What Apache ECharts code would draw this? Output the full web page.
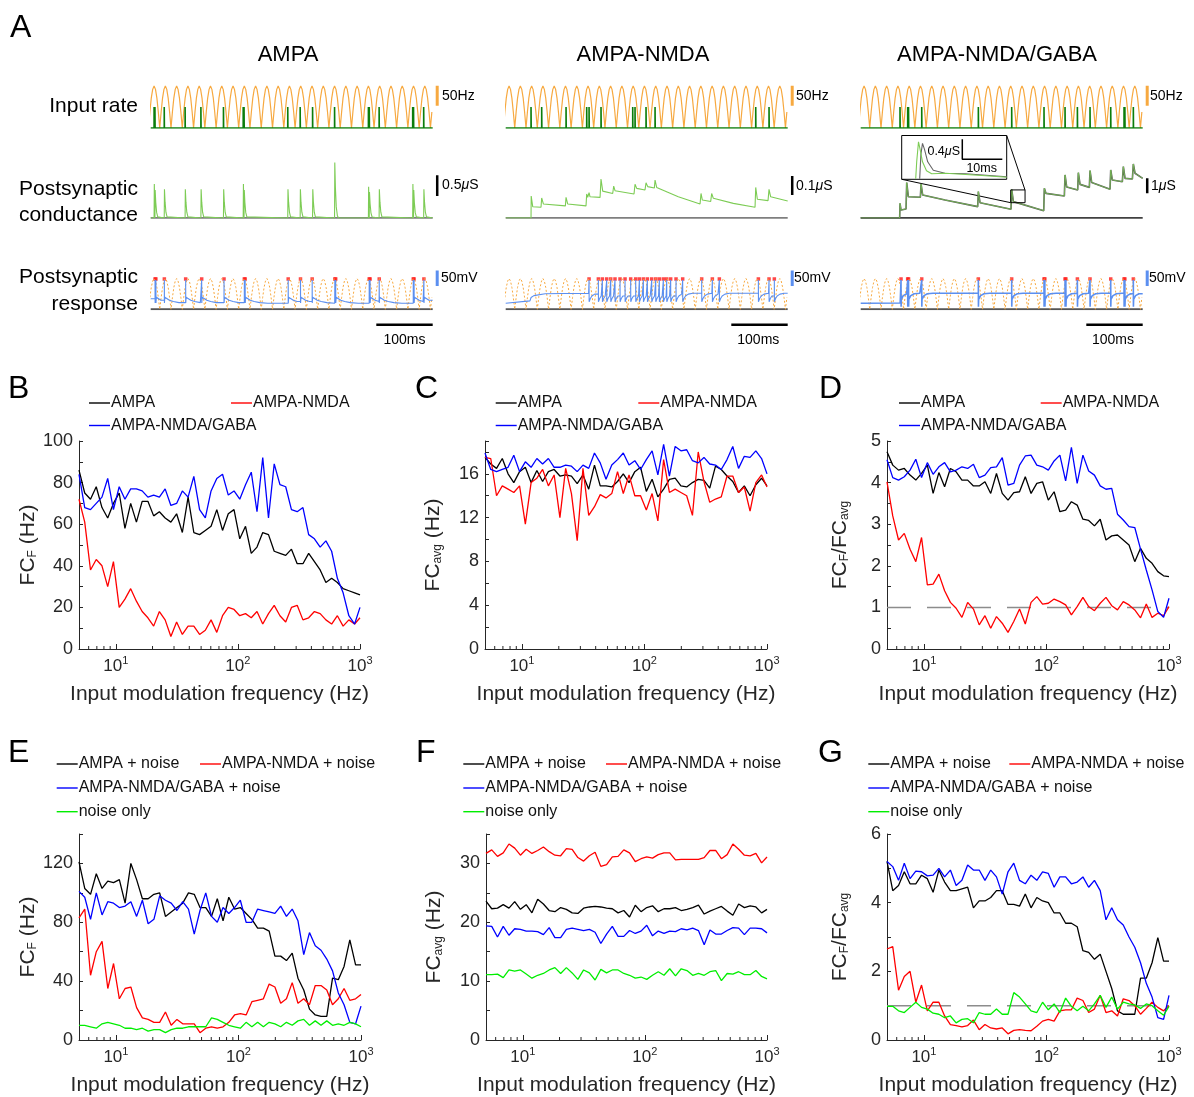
<!DOCTYPE html>
<html>
<head>
<meta charset="utf-8">
<script src="https://cdn.jsdelivr.net/npm/echarts@6/dist/echarts.min.js"></script>
<style>
  html, body { margin: 0; background: #fff; }
  #chart { width: 1194px; height: 1097px; }
</style>
</head>
<body>
<div id="chart"></div>
<script>
// ---------- data: frequency sweeps (panels B-G) ----------
const freq = [5.00, 5.57, 6.21, 6.92, 7.71, 8.59, 9.57, 10.67, 11.89, 13.25,
  14.76, 16.45, 18.33, 20.43, 22.76, 25.37, 28.27, 31.50, 35.10, 39.11,
  43.58, 48.57, 54.12, 60.31, 67.20, 74.88, 83.44, 92.98, 103.6, 115.5,
  128.7, 143.4, 159.8, 178.1, 198.4, 221.1, 246.4, 274.6, 306.0, 341.0,
  379.9, 423.4, 471.8, 525.7, 585.8, 652.8, 727.4, 810.6, 903.3, 1000];

// B: FC_F (Hz)
const bAmpa = [86,75,72,78,68,63,70,75,58,70, 61,71,71,64,66,63,61,65,56,73, 56,55,57,59,67,57,65,67,53,59, 46,49,56,55,47,46,45,48,41,41, 46,42,38,32,34,32,29,28,27,26];
const bNmda = [72,61,38,43,40,30,42,20,24,29, 23,18,15,11,18,14,6,13,7,11, 11,7,9,14,8,16,20,19,16,17, 15,18,12,17,21,16,13,20,21,14, 15,18,17,14,12,16,11,14,12,15];
const bGaba = [84,68,67,70,73,82,67,78,72,77, 77,76,73,74,73,77,69,70,76,73, 83,67,63,76,82,84,74,76,72,79, 85,66,92,63,89,79,78,67,66,68, 55,53,49,52,47,34,27,16,12,20];
// C: FC_avg (Hz)
const cAmpa = [17.5,16.9,16.5,17.4,16,15.2,16.2,16.6,15.2,16.3, 15.3,16.2,16.4,15.8,15.9,15.8,15.1,15.9,14.6,16.8, 14.9,14.9,14.8,15.3,16,15.2,16.2,16.6,14.4,15.5, 13.9,14.6,15.5,15.6,14.9,14.8,15.2,15.5,15.4,14.7, 16.7,16.4,15.8,15.3,14.3,14.9,14,15,15.6,14.9];
const cNmda = [17.5,17.4,14.0,14.9,14.6,14.3,14.9,11.4,15.2,15.6, 16.4,14.9,15.9,12.0,16.5,14.2,9.9,16.5,12.2,13.0, 14.1,13.8,14.2,16.2,14.2,15.9,14.0,14.0,12.7,14.2, 11.7,17.3,14.3,14.6,14.3,14.0,12.2,18.0,15.3,13.4, 13.7,13.9,15.8,15.8,14.3,14.8,12.6,15.2,15.9,14.8];
const cGaba = [17.9,16.4,16.2,16.4,16.6,17.7,16.2,17.1,16.6,17.4, 16.9,17.4,16.6,16.6,16.8,16.7,16.2,16.8,16.5,17.9, 17.0,15.5,16.8,17.3,17.9,16.8,17.2,16.4,17.3,18.1, 15.9,18.7,15.8,18.5,18.1,18.2,17.2,17.0,17.5,16.9, 16.8,16.4,17.3,18.5,16.5,17.6,17.5,18.1,17.4,16.0];
// D: FC_F / FC_avg
const dAmpa = [4.74,4.42,4.3,4.34,4.18,4.06,4.22,4.42,3.74,4.24, 3.9,4.34,4.26,4.06,4.06,3.92,3.92,4.02,3.74,4.22, 3.74,3.58,3.76,3.78,4.14,3.74,3.98,4.02,3.58,3.78, 3.3,3.34,3.54,3.46,3.12,3.09,2.96,3.12,2.62,2.72, 2.74,2.62,2.5,2.1,2.42,2.18,2.06,1.86,1.76,1.74];
const dNmda = [4.02,3.2,2.62,2.78,2.4,2.1,2.68,1.54,1.56,1.8, 1.4,1.12,0.98,0.76,1.12,0.96,0.58,0.8,0.5,0.78, 0.62,0.4,0.66,0.96,0.6,1.12,1.26,1.08,1.1,1.2, 1.14,1.06,0.82,1.02,1.24,1.02,0.92,1.1,1.24,1.04, 0.94,1.14,1.06,0.94,0.75,1.08,0.76,0.86,0.8,1.02];
const dGaba = [4.55,4.12,4.06,4.14,4.3,4.56,4.12,4.48,4.2,4.38, 4.48,4.26,4.3,4.38,4.34,4.44,4.12,4.18,4.36,4.38, 4.6,3.94,3.98,4.42,4.64,4.66,4.42,4.38,4.3,4.52, 4.66,4.04,4.85,3.98,4.66,4.28,4.18,3.92,3.84,3.86, 3.24,3.1,2.94,2.92,2.4,1.9,1.42,0.9,0.76,1.22];
// E: FC_F (Hz), with noise
const eAmpa = [121,103,99,113,103,108,107,109,93,120, 109,96,96,99,100,84,87,90,93,100, 99,90,90,84,96,81,97,89,90,86, 82,76,76,74,57,57,54,59,42,34, 21,17,16,16,42,41,50,68,51,51];
const eNmda = [83,89,44,60,67,35,52,28,35,36, 22,15,14,12,12,19,10,14,11,11, 11,5,8,9,8,9,12,17,18,17, 26,27,28,38,36,25,28,39,25,28, 24,37,37,34,24,28,35,27,28,31];
const eGaba = [101,97,82,100,85,94,93,90,91,94, 84,95,79,82,98,95,93,88,94,89, 72,88,100,84,80,90,86,90,95,80, 80,89,88,87,86,91,84,89,81,58, 73,64,61,55,47,32,24,12,11,23];
const eNoise = [10,10,9,8,11,12,11,10,8,8, 7,8,6,7,7,5,7,8,8,9, 9,9,9,15,14,12,10,9,8,12, 9,12,9,12,11,9,12,10,13,14, 10,13,10,13,10,11,10,12,11,9];
// F: FC_avg (Hz), with noise
const fAmpa = [23.6,22.3,22.4,23.0,22.4,23.5,22.2,23.0,21.6,23.9, 23.1,22.0,21.8,22.5,22.2,21.6,21.5,22.4,22.6,22.7, 22.6,22.4,22.3,21.6,22.0,20.9,22.9,21.8,22.5,22.8, 21.8,22.3,22.3,22.5,22.0,22.2,22.5,22.9,21.4,21.9, 22.3,22.7,21.9,21.2,23.1,22.5,22.8,22.6,21.6,22.2];
const fNmda = [31.7,32.3,31.2,31.8,33.3,32.6,31.4,32.4,31.7,32.2, 32.8,32.0,31.4,31.3,32.5,32.4,31.0,30.4,31.3,31.9, 29.5,29.8,31.1,31.2,32.3,31.8,30.3,30.8,31.1,30.9, 31.5,31.8,31.8,30.6,30.7,30.7,30.7,30.7,31.0,32.2, 32.2,30.8,31.5,33.3,32.4,31.4,31.3,31.7,30.1,31.1];
const fGaba = [19.4,19.3,17.5,19.3,17.8,18.9,18.8,18.5,18.5,18.4, 17.9,19.1,17.4,17.4,18.8,19.0,18.8,18.6,18.8,18.3, 16.4,18.0,19.3,17.6,17.6,18.6,18.1,18.5,19.5,17.7, 18.5,18.1,18.5,18.4,18.9,18.7,19.0,18.6,16.2,18.7, 18.0,18.0,18.6,19.1,19.0,17.9,19.0,19.0,18.9,18.2];
const fNoise = [11.1,11.1,11.2,10.6,11.9,11.7,11.9,11.2,10.5,11.0, 11.3,11.9,12.3,11.3,12.3,11.4,10.3,11.9,11.4,10.2, 12.0,11.4,11.9,11.9,11.3,11.0,10.5,10.7,10.3,11.0, 11.6,11.0,12.1,10.9,12.1,11.8,11.0,11.3,11.0,11.6, 11.8,10.1,11.3,11.2,11.6,11.1,11.1,11.8,10.8,10.4];
// G: FC_F / FC_avg, with noise
const gAmpa = [5.2,4.35,4.5,4.9,4.55,4.55,4.8,4.7,4.3,4.95, 4.6,4.35,4.35,4.4,4.45,3.85,4.05,4.05,4.15,4.35, 4.35,3.95,3.95,3.9,4.25,3.85,4.15,4.05,4.0,3.7, 3.7,3.4,3.4,3.3,2.6,2.55,2.35,2.5,2.0,1.5, 0.85,0.75,0.75,0.75,1.8,1.8,2.25,2.98,2.3,2.3];
const gNmda = [2.65,2.72,1.45,1.85,2.0,1.1,1.6,0.85,1.1,1.1, 0.7,0.45,0.42,0.38,0.42,0.58,0.3,0.45,0.35,0.32, 0.35,0.18,0.28,0.3,0.28,0.27,0.4,0.55,0.6,0.55, 0.85,0.88,0.88,1.22,1.15,0.8,0.9,1.3,0.8,0.85, 0.7,1.2,1.15,1.0,0.75,0.92,1.1,0.95,0.85,1.0];
const gGaba = [5.2,5.05,4.65,5.15,4.7,4.92,4.9,4.78,4.8,5.0, 4.75,4.95,4.5,4.65,5.1,4.95,4.95,4.65,4.95,4.75, 4.25,4.9,5.15,4.65,4.55,4.8,4.65,4.9,4.85,4.45, 4.75,4.75,4.55,4.6,4.75,4.45,4.65,4.35,3.5,3.85, 3.5,3.35,3.0,2.7,2.25,1.65,1.25,0.65,0.6,1.3];
const gNoise = [0.98,0.98,0.85,0.8,0.95,1.1,0.95,0.9,0.78,0.75, 0.65,0.7,0.5,0.6,0.62,0.5,0.8,0.75,0.75,0.9, 0.75,0.75,1.38,1.25,1.05,0.85,0.8,1.1,0.88,1.05, 0.8,1.22,0.98,0.85,0.98,0.85,1.05,1.3,0.95,1.25, 0.9,1.1,1.05,1.02,0.92,1.05,1.0,0.85,0.72,0.98];

const minorTickFreqs = [6,7,8,9,20,30,40,50,60,70,80,90,200,300,400,500,600,700,800,900];

// ---------- data: example traces (panel A), time in ms ----------
const rateShape = [0, 0.38, 0.71, 0.92, 1, 0.92, 0.71, 0.38, 0]; // one input-rate cycle, fraction of peak
const rateCycleMs = 20;
const rateOffsetMs = -4;
const ratePeakHz = 126;
const inSpikeHz = 63;

const inSpikes = [
  [6, 7.5, 24, 61, 89, 129, 164, 165.5, 243, 265, 287, 326, 386, 387.5, 405, 464.5, 466, 484],
  [44.9, 63.8, 107, 143.6, 147.8, 169, 225.2, 229.3, 248.8, 264.8, 443.3, 466.9],
  [69.7, 83.3, 84.8, 108.2, 208.6, 267.7, 325, 362.3, 384.2, 406.6, 443.3, 466.9, 468.4, 483.4]
];

// AMPA conductance events [ms, peak uS] and the shape of one event
const gEvents1 = [[6,0.85],[7.5,0.7],[24,0.72],[61,0.72],[89,0.72],[129,0.72],[164,0.85],[165.5,0.7],[243,0.72],[265,0.72],[287,0.72],[326,1.39],[386,0.78],[387.5,0.65],[405,0.72],[464.5,0.85],[466,0.7],[484,0.72]];
const gKernel1 = [[0,0],[0.4,1],[1.5,0.55],[3,0.2],[5,0.04],[7,0]];
// AMPA-NMDA conductance [ms, uS]
const gTrace2 = [[0,0],[44.9,0],[45.2,0.113],[47.9,0.058],[62.6,0.055],[63.8,0.103],[66.8,0.072],[105.8,0.062],[107,0.106],[109.9,0.072],[142.4,0.062],[143.6,0.123],[145.4,0.106],[147.8,0.13],[149.5,0.109],[167.3,0.106],[169,0.2],[172,0.138],[189.7,0.126],[191.5,0.164],[193.8,0.14],[227.5,0.123],[229.3,0.173],[232.3,0.152],[247,0.144],[248.8,0.181],[251.8,0.161],[263.6,0.154],[264.8,0.195],[267.7,0.157],[306,0.109],[344.6,0.072],[346.3,0.126],[348.7,0.092],[363.5,0.085],[365.2,0.126],[368.2,0.101],[403.6,0.075],[442.1,0.055],[443.3,0.157],[446.2,0.096],[465.1,0.089],[466.9,0.147],[469.8,0.109],[500,0.087]];
// AMPA-NMDA/GABA conductance [ms, uS]
const gTrace3 = [[0,0],[69.1,0],[69.7,0.98],[71.5,0.53],[80.4,0.6],[81.6,2.36],[84.5,1.42],[105.8,1.38],[107,2.27],[109.9,1.53],[149.5,1.2],[207.4,0.76],[208.6,1.76],[211.6,1.02],[266.5,0.58],[267.7,1.91],[270.7,1.09],[324.5,0.49],[325.6,1.98],[328.6,1.64],[361.1,1.47],[362.3,2.87],[365.2,2.07],[384.7,1.87],[385.9,3.02],[388.9,2.24],[405.4,2.04],[406.6,3.16],[409.6,2.36],[442.1,1.91],[443.3,3.2],[446.2,2.53],[463.9,2.42],[465.7,3.42],[468.7,2.64],[481.7,2.6],[483.4,3.6],[486.4,2.98],[500,2.64]];
// inset (zoom of one GABA-model event), [ms, uS]
const insetGreen = [[3.5,0.01],[3.75,0.35],[4.2,0.75],[4.6,0.6],[5.2,0.35],[6.2,0.17],[7.5,0.11],[11,0.12],[15,0.1],[21,0.07],[26.25,0.04]];
const insetGray = [[4.5,0.01],[4.8,0.5],[5.2,0.72],[5.7,0.6],[6.5,0.35],[7.9,0.18],[10.8,0.12],[16,0.11],[26.25,0.05]];

// membrane potential: output spike times, level before first spike, trajectory after a spike [dt ms, mV]
const vSpikes = [
  [7.7, 9.2, 24.2, 62, 90.4, 130, 166, 167.5, 243.8, 265.6, 286.3, 326.5, 328, 387.4, 389, 405.2, 465.5, 467, 484.4],
  [147.8, 164.3, 171.4, 179.1, 186.2, 193.8, 202.7, 211.6, 221.6, 230.5, 237, 244.1, 251.2, 258.9, 266, 272.4, 279.5, 285.5, 292.5, 302, 313.8, 347.5, 366.4, 378.8, 448, 466.9, 476.3],
  [71.5, 83.3, 84.8, 108.2, 208.6, 267.7, 325, 326.5, 362.3, 363.8, 384.2, 406.6, 443.3, 466.9, 468.4, 483.4]
];
const vPre = [
  [[0,-56]],
  [[0,-70.7],[43,-63],[45,-52],[50,-46],[70,-40],[100,-39],[147,-38.5]],
  [[0,-70.7],[70,-69.5]]
];
const vAfter = [
  [[0.15,-70],[0.8,-51.4],[4,-56],[9,-61],[16,-65],[26,-68.5],[40,-70.7]],
  [[0.15,-66],[2,-56],[5,-47],[10,-41],[18,-38.5]],
  [[0.15,-82],[0.5,-58],[4,-46],[10,-40],[20,-38.5]]
];
const vSpikeTop = 4;
const vMarker = 7.6;

// ---------- styling ----------
const FONT = 'Liberation Sans, Arial, Helvetica, sans-serif';
const INK = '#262626';
const C_RATE = '#f7a940';
const C_INSP = '#0b7d0b';
const C_G = '#7dcc55';
const C_V = '#5b8ff0';
const C_SPK = '#ff1a1a';
const LINE_COLORS = { black: '#000000', red: '#ff0000', blue: '#0000ff', green: '#00ee00' };

// ---------- builders ----------
const T_END = 500;   // trace length (ms)
const T_AXIS = 512;  // axis span, leaves room for the scale bars

const pair = ys => freq.map((f, i) => [f, ys[i]]);

function rateTrace(base, peak) {
  const pts = [];
  const step = rateCycleMs / (rateShape.length - 1);
  for (let k = 0; k <= 26; k++) {
    rateShape.forEach((f, j) => {
      const t = rateOffsetMs + k * rateCycleMs + j * step;
      if (t <= T_END) pts.push([t, base + f * peak]);
    });
  }
  return pts;
}

function spikeTrain(times, h) {
  const pts = [[0, 0]];
  times.forEach(t => pts.push([t, 0], [t, h], [t + 0.3, 0]));
  pts.push([T_END, 0]);
  return pts;
}

function eventTrace(events, kernel) {
  const pts = [[0, 0]];
  events.forEach(([t, a], i) => {
    const next = i + 1 < events.length ? events[i + 1][0] : Infinity;
    kernel.forEach(([dt, f]) => { if (t + dt < next) pts.push([t + dt, a * f]); });
  });
  pts.push([T_END, 0]);
  return pts;
}

function voltageTrace(pre, spikes, after) {
  const pts = pre.filter(p => p[0] < spikes[0]);
  spikes.forEach((t, i) => {
    const next = i + 1 < spikes.length ? spikes[i + 1] : T_END;
    pts.push([t, pts[pts.length - 1][1]], [t, vSpikeTop]);
    after.forEach(([dt, v]) => { if (t + dt < next) pts.push([t + dt, v]); });
    pts.push([next, pts[pts.length - 1][1]]);
  });
  return pts;
}

// ---------- layout ----------
const colLeft = [150.7, 505.7, 860.7];
const colW = 282 * T_AXIS / T_END;
const rowsA = [{ top: 80, h: 48, min: 0, max: 144 }, { top: 150, h: 68 }, { top: 268, h: 41.3, min: -90, max: 43 }];
const gMax = [1.7, 0.349, 4.53];
const gBar = [[0.55, 1.07], [0.118, 0.215], [1.65, 2.65]];
const BAR_T = 508;

const grids = [], xAxes = [], yAxes = [], series = [], legends = [];

function lineSeries(idx, data, color, width, extra) {
  return Object.assign({
    type: 'line', xAxisIndex: idx, yAxisIndex: idx, data, symbol: 'none', silent: true,
    lineStyle: { color, width }, itemStyle: { color }
  }, extra || {});
}

for (let c = 0; c < 3; c++) {
  for (let r = 0; r < 3; r++) {
    const idx = c * 3 + r;
    grids.push({ left: colLeft[c], top: rowsA[r].top, width: colW, height: rowsA[r].h });
    xAxes.push({ type: 'value', gridIndex: idx, min: 0, max: T_AXIS, show: false });
    yAxes.push({ type: 'value', gridIndex: idx, show: false,
      min: r === 1 ? 0 : rowsA[r].min, max: r === 1 ? gMax[c] : rowsA[r].max });
  }
  const i0 = c * 3, i1 = c * 3 + 1, i2 = c * 3 + 2;
  // input rate + input spikes
  series.push(lineSeries(i0, rateTrace(0, ratePeakHz), C_RATE, 1.2));
  series.push(lineSeries(i0, spikeTrain(inSpikes[c], inSpikeHz), C_INSP, 1.6));
  series.push(lineSeries(i0, [[BAR_T, 67], [BAR_T, 127]], C_RATE, 3, { clip: false }));
  // conductance
  series.push(lineSeries(i1, [[0, 0], [T_END, 0]], c === 2 ? '#000' : '#555', 1.5));
  if (c === 0) series.push(lineSeries(i1, eventTrace(gEvents1, gKernel1), C_G, 1.1));
  if (c === 1) series.push(lineSeries(i1, gTrace2, C_G, 1.1));
  if (c === 2) {
    series.push(lineSeries(i1, gTrace3, '#555', 1.6));
    series.push(lineSeries(i1, gTrace3, C_G, 1, { lineStyle: { color: C_G, width: 1, opacity: 0.75 } }));
    series.push(lineSeries(i1, [[266, 1.02], [291.4, 1.02], [291.4, 1.87], [266, 1.87], [266, 1.02]], '#000', 1));
  }
  series.push(lineSeries(i1, [[BAR_T, gBar[c][0]], [BAR_T, gBar[c][1]]], '#000', 2.5, { clip: false }));
  // membrane response
  series.push(lineSeries(i2, [[0, -90], [T_END, -90]], '#555', 2));
  series.push(lineSeries(i2, rateTrace(-90, 99), C_RATE, 1, { lineStyle: { color: C_RATE, width: 1, type: [2, 2] } }));
  series.push(lineSeries(i2, voltageTrace(vPre[c], vSpikes[c], vAfter[c]), C_V, c === 2 ? 1.6 : 1.1));
  series.push({
    type: 'scatter', xAxisIndex: i2, yAxisIndex: i2, silent: true,
    data: vSpikes[c].map(t => [t, vMarker]),
    symbol: 'rect', symbolSize: [3.5, 3.5],
    itemStyle: { color: C_SPK }
  });
  series.push(lineSeries(i2, [[BAR_T, -15], [BAR_T, 35]], C_V, 3, { clip: false }));
  series.push(lineSeries(i2, [[400, -140], [T_END, -140]], '#000', 2.5, { clip: false }));
}

// inset grid (index 9)
grids.push({ left: 901.7, top: 135.5, width: 105, height: 43.8, show: true, borderColor: '#000', borderWidth: 1, backgroundColor: '#fff' });
xAxes.push({ type: 'value', gridIndex: 9, min: 0, max: 26.25, show: false });
yAxes.push({ type: 'value', gridIndex: 9, min: 0, max: 0.876, show: false });
series.push(lineSeries(9, insetGray, '#666', 1.1));
series.push(lineSeries(9, insetGreen, C_G, 1.1));
series.push(lineSeries(9, [[15.15, 0.8], [15.15, 0.4], [25.15, 0.4]], '#000', 1.5, { clip: false }));

// ---------- panels B-G ----------
const namesA = ['AMPA', 'AMPA-NMDA', 'AMPA-NMDA/GABA'];
const namesN = ['AMPA + noise', 'AMPA-NMDA + noise', 'AMPA-NMDA/GABA + noise', 'noise only'];
const panels = [
  { grid: { left: 79, top: 441, width: 281, height: 208 }, max: 100, step: 10, every: 20, name: '{m|FC}{s|F}{m| (Hz)}', gap: 38,
    lines: [[namesA[0], bAmpa, 'black'], [namesA[1], bNmda, 'red'], [namesA[2], bGaba, 'blue']],
    leg: [[89, 403], [231, 403], [89, 425.5]] },
  { grid: { left: 485, top: 441, width: 282, height: 208 }, max: 19, step: 2, every: 4, name: '{m|FC}{s|avg}{m| (Hz)}', gap: 41,
    lines: [[namesA[0], cAmpa, 'black'], [namesA[1], cNmda, 'red'], [namesA[2], cGaba, 'blue']],
    leg: [[495.7, 403], [638.3, 403], [495.7, 425.5]] },
  { grid: { left: 887, top: 441, width: 282, height: 208 }, max: 5, step: 0.5, every: 1, name: '{m|FC}{s|F}{m|/FC}{s|avg}', gap: 36, ref: true,
    lines: [[namesA[0], dAmpa, 'black'], [namesA[1], dNmda, 'red'], [namesA[2], dGaba, 'blue']],
    leg: [[899, 403], [1040.7, 403], [899, 425.5]] },
  { grid: { left: 79, top: 834, width: 282, height: 207 }, max: 140, step: 20, every: 40, name: '{m|FC}{s|F}{m| (Hz)}', gap: 38,
    lines: [[namesN[0], eAmpa, 'black'], [namesN[1], eNmda, 'red'], [namesN[2], eGaba, 'blue'], [namesN[3], eNoise, 'green']],
    leg: [[56.7, 764], [200, 764], [56.7, 788], [56.7, 811.7]] },
  { grid: { left: 486, top: 834, width: 281, height: 207 }, max: 35, step: 5, every: 10, name: '{m|FC}{s|avg}{m| (Hz)}', gap: 41,
    lines: [[namesN[0], fAmpa, 'black'], [namesN[1], fNmda, 'red'], [namesN[2], fGaba, 'blue'], [namesN[3], fNoise, 'green']],
    leg: [[463.3, 764], [606, 764], [463.3, 788], [463.3, 811.7]] },
  { grid: { left: 887, top: 834, width: 282, height: 207 }, max: 6, step: 1, every: 2, name: '{m|FC}{s|F}{m|/FC}{s|avg}', gap: 36, ref: true,
    lines: [[namesN[0], gAmpa, 'black'], [namesN[1], gNmda, 'red'], [namesN[2], gGaba, 'blue'], [namesN[3], gNoise, 'green']],
    leg: [[868.3, 764], [1009.3, 764], [868.3, 788], [868.3, 811.7]] }
];

const isMultiple = (v, s) => Math.abs(v / s - Math.round(v / s)) < 1e-6;
const decadeLabel = v => {
  const e = Math.round(Math.log10(v));
  return (e >= 1 && Math.abs(Math.pow(10, e) - v) < 1e-6 * v) ? '{m|10}{p|' + e + '}' : '';
};

panels.forEach((p, k) => {
  const idx = 10 + k;
  grids.push(p.grid);
  xAxes.push({
    type: 'log', logBase: 10, gridIndex: idx, min: 5, max: 1000,
    axisLine: { lineStyle: { color: INK, width: 1 } },
    axisTick: { inside: true, length: 5, lineStyle: { color: INK } },
    splitLine: { show: false },
    axisLabel: { formatter: decadeLabel, margin: 6, color: INK,
      rich: { m: { fontSize: 17, fontFamily: FONT, color: INK, lineHeight: 20, verticalAlign: 'bottom' },
              p: { fontSize: 11, fontFamily: FONT, color: INK, lineHeight: 12, verticalAlign: 'top' } } },
    name: 'Input modulation frequency (Hz)', nameLocation: 'middle', nameGap: 35,
    nameTextStyle: { fontSize: 21, color: INK, fontFamily: FONT }
  });
  yAxes.push({
    type: 'value', gridIndex: idx, min: 0, max: p.max, interval: p.step,
    axisLine: { show: true, lineStyle: { color: INK, width: 1 } },
    axisTick: { show: true, inside: true, length: 4, lineStyle: { color: INK } },
    splitLine: { show: false },
    axisLabel: { formatter: v => isMultiple(v, p.every) ? String(v) : '', fontSize: 18, color: INK, fontFamily: FONT, margin: 6 },
    name: p.name, nameLocation: 'middle', nameRotate: 90, nameGap: p.gap,
    nameTextStyle: { color: INK, rich: {
      m: { fontSize: 21, fontFamily: FONT, color: INK, lineHeight: 24, verticalAlign: 'bottom' },
      s: { fontSize: 12, fontFamily: FONT, color: INK, lineHeight: 14, verticalAlign: 'bottom' } } }
  });
  if (p.ref) {
    series.push(lineSeries(idx, [[5, 1], [1000, 1]], '#8c8c8c', 1.5, { lineStyle: { color: '#8c8c8c', width: 1.5, type: [24, 16] } }));
  }
  p.lines.forEach(([name, ys, col]) => {
    series.push(lineSeries(idx, pair(ys), LINE_COLORS[col], 1.3, { name }));
  });
  series.push({
    type: 'custom', xAxisIndex: idx, yAxisIndex: idx, silent: true, clip: false,
    data: minorTickFreqs.map(f => [f, 0]),
    renderItem: (params, api) => {
      const pt = api.coord([api.value(0), api.value(1)]);
      return { type: 'line', shape: { x1: pt[0], y1: pt[1], x2: pt[0], y2: pt[1] - 3 }, style: { stroke: INK, lineWidth: 1 } };
    }
  });
  p.leg.forEach(([x, y], j) => {
    legends.push({
      data: [p.lines[j][0]], left: x, top: y - 9, padding: 0, itemGap: 0,
      icon: 'rect', itemWidth: 21, itemHeight: 1.4, selectedMode: false,
      textStyle: { fontSize: 16, color: '#111', fontFamily: FONT, padding: [0, 0, 0, -4], lineHeight: 18 }
    });
  });
});

// ---------- text and decorations ----------
function text(x, y, str, size, align, extra) {
  return { type: 'text', x, y, silent: true, style: Object.assign({
    text: str, fontSize: size, fontFamily: FONT, fill: '#000', align: align || 'left', verticalAlign: 'middle'
  }, extra || {}) };
}
const muRich = { rich: { i: { fontStyle: 'italic', fontSize: 14, fontFamily: FONT } } };
const graphics = [
  text(10, 28, 'A', 32), text(8, 389, 'B', 32), text(415, 389, 'C', 32), text(819, 389, 'D', 32),
  text(8, 753, 'E', 32), text(416, 753, 'F', 32), text(818, 753, 'G', 32),
  text(288, 55, 'AMPA', 22, 'center'), text(643, 55, 'AMPA-NMDA', 22, 'center'), text(997, 55, 'AMPA-NMDA/GABA', 22, 'center'),
  text(138, 106, 'Input rate', 21, 'right'),
  text(138, 189, 'Postsynaptic', 21, 'right'), text(138, 215, 'conductance', 21, 'right'),
  text(138, 277, 'Postsynaptic', 21, 'right'), text(138, 304, 'response', 21, 'right'),
  text(442, 96, '50Hz', 14), text(796, 96, '50Hz', 14), text(1150, 96, '50Hz', 14),
  text(442, 185, '0.5{i|μ}S', 14, 'left', muRich), text(796, 186, '0.1{i|μ}S', 14, 'left', muRich), text(1151, 186, '1{i|μ}S', 14, 'left', muRich),
  text(441, 278, '50mV', 14), text(794, 278, '50mV', 14), text(1149, 278, '50mV', 14),
  text(404.5, 340, '100ms', 14, 'center'), text(758.3, 340, '100ms', 14, 'center'), text(1113, 340, '100ms', 14, 'center'),
  text(960, 151.7, '0.4{i|μ}S', 12.5, 'right', { rich: { i: { fontStyle: 'italic', fontSize: 12.5, fontFamily: FONT } } }),
  text(981.7, 168.5, '10ms', 12.5, 'center'),
  { type: 'line', silent: true, shape: { x1: 901.7, y1: 179.3, x2: 1010.7, y2: 202.7 }, style: { stroke: '#000', lineWidth: 1 } },
  { type: 'line', silent: true, shape: { x1: 1006.7, y1: 135.5, x2: 1025, y2: 190 }, style: { stroke: '#000', lineWidth: 1 } }
];

const chart = echarts.init(document.getElementById('chart'), null, { renderer: 'canvas' });
chart.setOption({
  animation: false,
  backgroundColor: '#fff',
  textStyle: { fontFamily: FONT },
  grid: grids,
  xAxis: xAxes,
  yAxis: yAxes,
  legend: legends,
  series,
  graphic: graphics
});
</script>
</body>
</html>
